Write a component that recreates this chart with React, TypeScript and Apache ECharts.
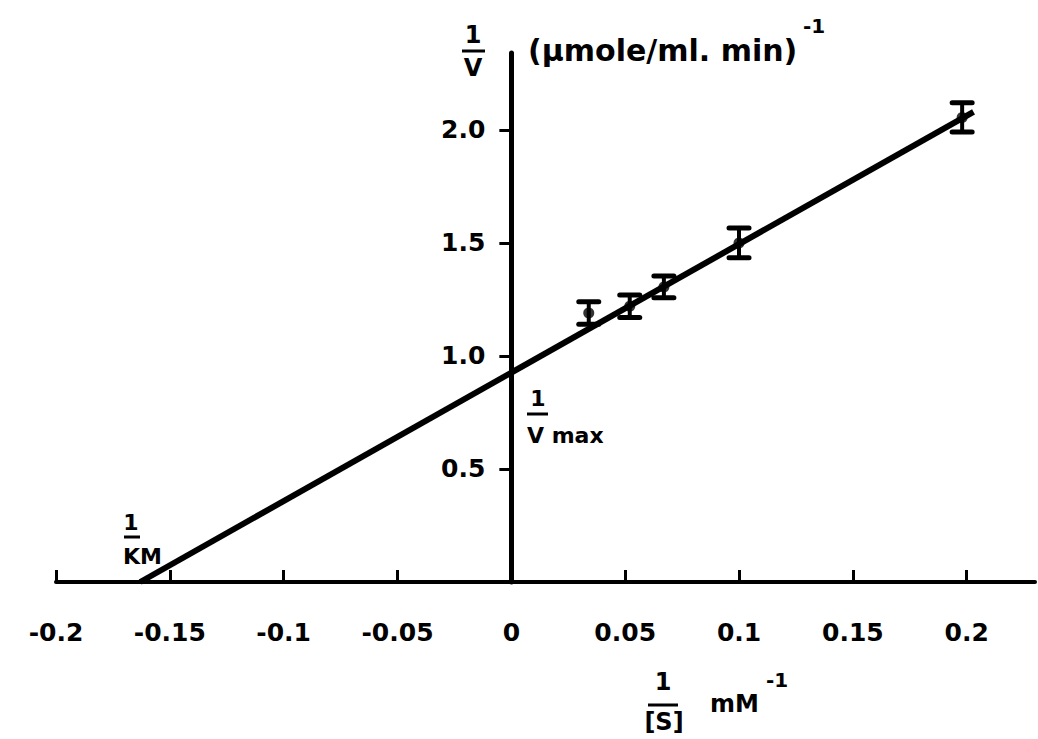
import React, { useEffect, useRef } from "react";
import * as echarts from "echarts";

// ---- data ----
const xTicks = [-0.2, -0.15, -0.1, -0.05, 0, 0.05, 0.1, 0.15, 0.2];
const xTickLabels = ["-0.2", "-0.15", "-0.1", "-0.05", "0", "0.05", "0.1", "0.15", "0.2"];
const yTicks = [0.5, 1.0, 1.5, 2.0];
const yTickLabels = ["0.5", "1.0", "1.5", "2.0"];

// 1/[S] values and 1/v means with error limits
const invS = [0.034, 0.052, 0.067, 0.1, 0.198];
const invV = [1.19, 1.22, 1.305, 1.5, 2.055];
const invVLow = [1.14, 1.17, 1.257, 1.434, 1.99];
const invVHigh = [1.24, 1.27, 1.354, 1.566, 2.12];

// fitted Lineweaver-Burk line end points
const fitX = [-0.163, 0.203];
const fitY = [0, 2.08];

const FONT = "DejaVu Sans";
const X_MIN = -0.2;
const X_MAX = 0.23;
const GRID_LEFT = 56;
const GRID_RIGHT = 3;
const W = 1038;

function labelFor(v: number, ticks: number[], labels: string[]) {
  for (let i = 0; i < ticks.length; i++) {
    if (Math.abs(ticks[i] - v) < 1e-6) return labels[i];
  }
  return "";
}

export default function App() {
  const ref = useRef<HTMLDivElement>(null);

  useEffect(() => {
    if (!ref.current) return;
    const chart = echarts.init(ref.current, null, { renderer: "svg" });

    // distance from grid's left edge to x = 0, to place the y axis on zero
    const gridW = W - GRID_LEFT - GRID_RIGHT;
    const zeroOffset = ((0 - X_MIN) / (X_MAX - X_MIN)) * gridW;

    const txt = (text: string, x: number, y: number, size: number, align = "center") => ({
      type: "text",
      x,
      y,
      style: {
        text,
        fill: "#000",
        fontFamily: FONT,
        fontWeight: "bold",
        fontSize: size,
        align,
        verticalAlign: "middle",
      },
    });
    const bar = (x1: number, x2: number, y: number) => ({
      type: "line",
      shape: { x1, y1: y, x2, y2: y },
      style: { stroke: "#000", lineWidth: 3 },
    });

    chart.setOption({
      animation: false,
      backgroundColor: "#fff",
      grid: {
        left: GRID_LEFT,
        right: GRID_RIGHT,
        top: 53,
        bottom: 157,
        containLabel: false,
        outerBoundsMode: "none",
      },
      xAxis: {
        type: "value",
        min: X_MIN,
        max: X_MAX,
        splitLine: { show: false },
        axisLine: { show: true, onZero: false, lineStyle: { color: "#000", width: 4 } },
        axisTick: {
          show: true,
          inside: true,
          length: 12,
          customValues: xTicks,
          lineStyle: { color: "#000", width: 3 },
        },
        axisLabel: {
          show: true,
          customValues: xTicks,
          margin: 38,
          color: "#000",
          fontFamily: FONT,
          fontWeight: "bold",
          fontSize: 25,
          formatter: (v: number) => labelFor(v, xTicks, xTickLabels),
        },
      },
      yAxis: {
        type: "value",
        min: 0,
        max: 2.34,
        offset: -zeroOffset,
        splitLine: { show: false },
        axisLine: { show: true, onZero: false, lineStyle: { color: "#000", width: 5 } },
        axisTick: {
          show: true,
          inside: false,
          length: 12,
          customValues: yTicks,
          lineStyle: { color: "#000", width: 3 },
        },
        axisLabel: {
          show: true,
          customValues: yTicks,
          margin: 26,
          color: "#000",
          fontFamily: FONT,
          fontWeight: "bold",
          fontSize: 25,
          formatter: (v: number) => labelFor(v, yTicks, yTickLabels),
        },
      },
      series: [
        {
          type: "line",
          data: fitX.map((x, i) => [x, fitY[i]]),
          symbol: "none",
          lineStyle: { color: "#000", width: 6 },
          z: 3,
        },
        {
          type: "scatter",
          data: invS.map((x, i) => [x, invV[i]]),
          symbol: "circle",
          symbolSize: 11,
          itemStyle: { color: "#000" },
          z: 4,
        },
        {
          type: "custom",
          data: invS.map((x, i) => [x, invVLow[i], invVHigh[i]]),
          renderItem: (params: any, api: any) => {
            const x = api.value(0);
            const lo = api.coord([x, api.value(1)]);
            const hi = api.coord([x, api.value(2)]);
            const w = 10;
            return {
              type: "group",
              children: [
                {
                  type: "line",
                  shape: { x1: lo[0], y1: lo[1], x2: hi[0], y2: hi[1] },
                  style: { stroke: "#000", lineWidth: 4 },
                },
                {
                  type: "line",
                  shape: { x1: lo[0] - w, y1: lo[1], x2: lo[0] + w, y2: lo[1] },
                  style: { stroke: "#000", lineWidth: 5, lineCap: "round" },
                },
                {
                  type: "line",
                  shape: { x1: hi[0] - w, y1: hi[1], x2: hi[0] + w, y2: hi[1] },
                  style: { stroke: "#000", lineWidth: 5, lineCap: "round" },
                },
              ],
            };
          },
          z: 5,
        },
      ],
      graphic: [
        // 1/V (µmole/ml. min)^-1
        txt("1", 473, 35, 24),
        bar(462, 485, 51),
        txt("V", 473, 68, 24),
        txt("(µmole/ml. min)", 528, 50, 30, "left"),
        txt("-1", 803, 26, 20, "left"),
        // 1/Vmax
        txt("1", 538, 398, 22),
        bar(527, 548, 414),
        txt("V max", 527, 435, 22, "left"),
        // 1/KM
        txt("1", 131, 522, 22),
        bar(124, 140, 537),
        txt("KM", 123, 556, 22, "left"),
        // 1/[S] mM^-1
        txt("1", 663, 682, 24),
        bar(648, 678, 705),
        txt("[S]", 664, 722, 24),
        txt("mM", 710, 704, 24, "left"),
        txt("-1", 766, 680, 20, "left"),
      ],
    });

    return () => chart.dispose();
  }, []);

  return (
    <div
      ref={ref}
      style={{ position: "fixed", left: 0, top: 0, width: W, height: 739, background: "#fff" }}
    />
  );
}
